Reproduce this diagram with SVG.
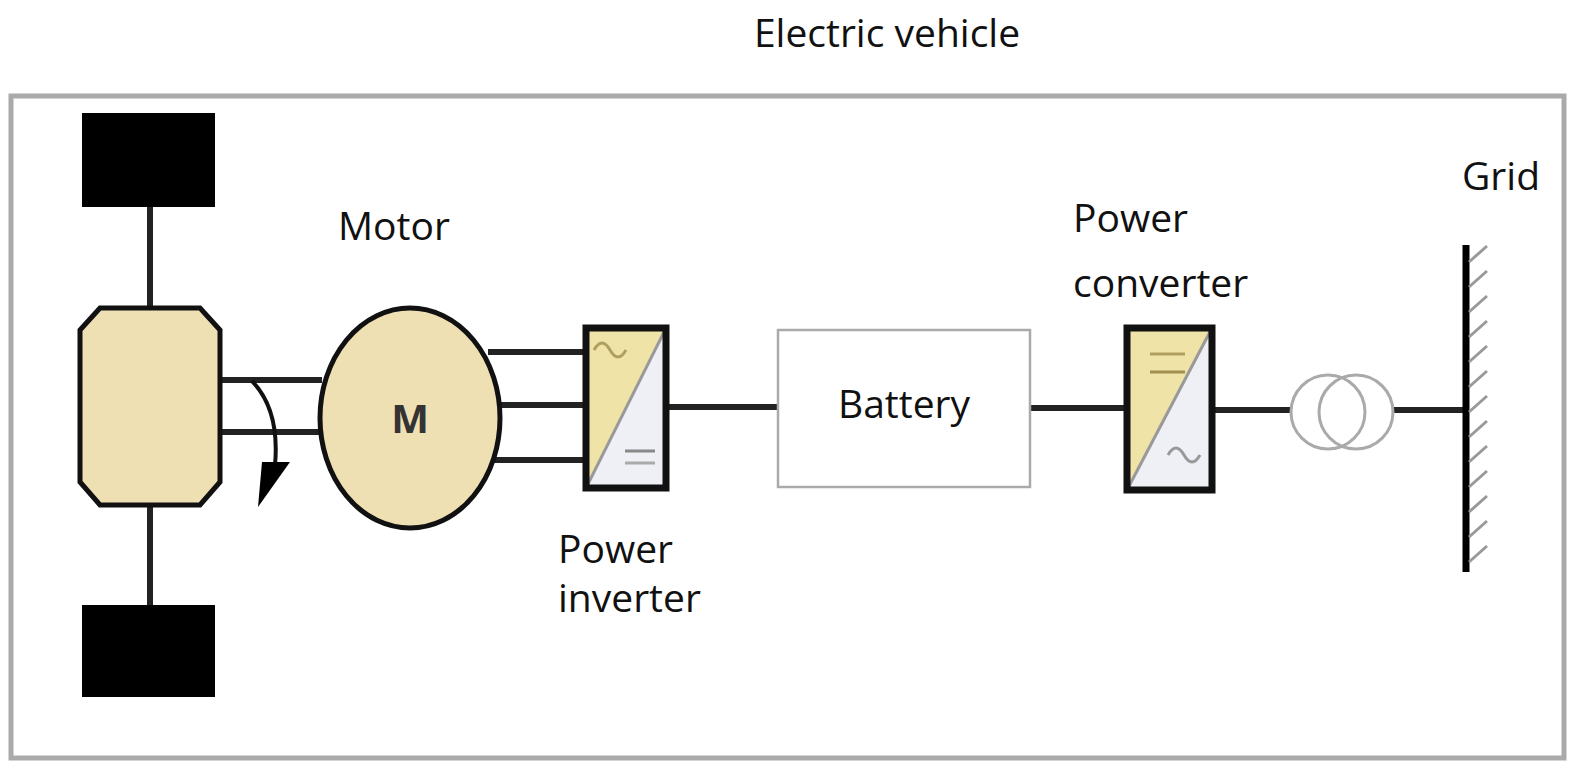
<svg xmlns="http://www.w3.org/2000/svg" width="1577" height="777" viewBox="0 0 1577 777">
<style>
text{font-family:"Open Sans","Liberation Sans",sans-serif;font-size:39px;fill:#111}
.ln{stroke:#222;stroke-width:6;fill:none}
.blk{fill:#000}
.conv{stroke:#111;stroke-width:7}
</style>
<rect width="1577" height="777" fill="#fff"/>
<text x="887" y="47" text-anchor="middle">Electric vehicle</text>
<rect x="11" y="96" width="1553" height="662" fill="none" stroke="#aaa" stroke-width="5"/>
<g id="connectors">
<line class="ln" x1="150" y1="207" x2="150" y2="308"/>
<line class="ln" x1="150" y1="505" x2="150" y2="605"/>
<line class="ln" x1="222" y1="380" x2="322" y2="380"/>
<line class="ln" x1="222" y1="432" x2="322" y2="432"/>
<line class="ln" x1="488" y1="352" x2="585" y2="352"/>
<line class="ln" x1="500" y1="405" x2="585" y2="405"/>
<line class="ln" x1="488" y1="460" x2="585" y2="460"/>
<line class="ln" x1="668" y1="407" x2="778" y2="407"/>
<line class="ln" x1="1030" y1="408" x2="1127" y2="408"/>
<line class="ln" x1="1213" y1="410" x2="1290" y2="410"/>
<line class="ln" x1="1393" y1="410" x2="1466" y2="410"/>
</g>
<g id="wheel-top"><rect class="blk" x="82" y="113" width="133" height="94"/></g>
<g id="wheel-bottom"><rect class="blk" x="82" y="605" width="133" height="92"/></g>
<g id="differential"><polygon points="100,308 200,308 220,330 220,482 200,505 100,505 80,482 80,330" fill="#efe0b4" stroke="#111" stroke-width="5"/></g>
<g id="rotation">
<path d="M252,381 Q280,410 275,465" fill="none" stroke="#111" stroke-width="4"/>
<polygon points="262,462 290,462 258,507" fill="#000"/>
</g>
<g id="motor">
<ellipse cx="410" cy="418" rx="90" ry="110" fill="#efe0b4" stroke="#111" stroke-width="5"/>
<text x="410" y="433" text-anchor="middle" style="font-size:40px;font-weight:bold;fill:#333">M</text>
<text x="338" y="240">Motor</text>
</g>
<g id="power-inverter">
<rect x="586" y="328" width="80" height="160" fill="#eef0f5"/>
<polygon points="586,328 666,328 586,488" fill="#f0e3a8"/>
<line x1="586" y1="488" x2="666" y2="328" stroke="#999" stroke-width="3"/>
<path d="M594,350 q8,-14 16,0 t16,0" fill="none" stroke="#b0a060" stroke-width="3"/>
<line x1="625" y1="451" x2="655" y2="451" stroke="#888" stroke-width="3"/>
<line x1="625" y1="463" x2="655" y2="463" stroke="#aaa" stroke-width="3"/>
<rect x="586" y="328" width="80" height="160" fill="none" class="conv"/>
<text x="558" y="563">Power</text>
<text x="558" y="612">inverter</text>
</g>
<g id="battery">
<rect x="778" y="330" width="252" height="157" fill="#fff" stroke="#aaa" stroke-width="2.5"/>
<text x="904" y="418" text-anchor="middle">Battery</text>
</g>
<g id="power-converter">
<rect x="1127" y="328" width="85" height="162" fill="#eef0f5"/>
<polygon points="1127,328 1212,328 1127,490" fill="#f0e3a8"/>
<line x1="1127" y1="490" x2="1212" y2="328" stroke="#999" stroke-width="3"/>
<line x1="1150" y1="354" x2="1185" y2="354" stroke="#b0a060" stroke-width="3"/>
<line x1="1150" y1="372" x2="1185" y2="372" stroke="#a09050" stroke-width="3"/>
<path d="M1168,455 q8,-14 16,0 t16,0" fill="none" stroke="#999" stroke-width="3"/>
<rect x="1127" y="328" width="85" height="162" fill="none" class="conv"/>
<text x="1073" y="232">Power</text>
<text x="1073" y="297">converter</text>
</g>
<g id="transformer" fill="none" stroke="#aaa" stroke-width="3">
<circle cx="1328" cy="412" r="37"/>
<circle cx="1356" cy="412" r="37"/>
</g>
<g id="grid">
<line x1="1466" y1="245" x2="1466" y2="572" stroke="#000" stroke-width="7"/>
<path d="M1469,262 l18,-16 M1469,287 l18,-16 M1469,312 l18,-16 M1469,337 l18,-16 M1469,362 l18,-16 M1469,387 l18,-16 M1469,412 l18,-16 M1469,437 l18,-16 M1469,462 l18,-16 M1469,487 l18,-16 M1469,512 l18,-16 M1469,537 l18,-16 M1469,562 l18,-16" stroke="#999" stroke-width="3"/>
<text x="1462" y="190">Grid</text>
</g>
</svg>
